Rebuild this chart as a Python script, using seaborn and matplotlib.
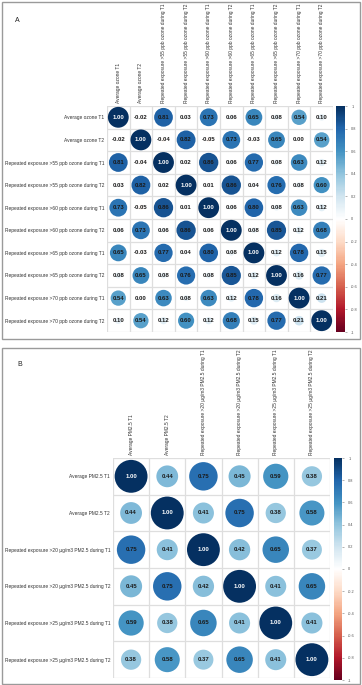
import numpy as np
import pandas as pd
import matplotlib
matplotlib.use("Agg")
import matplotlib.pyplot as plt
import seaborn as sns
from matplotlib.colors import LinearSegmentedColormap, Normalize
from matplotlib.patches import Rectangle
import matplotlib.cm as cm

# ---------------- data ----------------
ozone_labels = [
    "Average ozone T1",
    "Average ozone T2",
    "Repeated exposure >55 ppb ozone during T1",
    "Repeated exposure >55 ppb ozone during T2",
    "Repeated exposure >60 ppb ozone during T1",
    "Repeated exposure >60 ppb ozone during T2",
    "Repeated exposure >65 ppb ozone during T1",
    "Repeated exposure >65 ppb ozone during T2",
    "Repeated exposure >70 ppb ozone during T1",
    "Repeated exposure >70 ppb ozone during T2",
]
ozone_corr = [
    [1.00, -0.02, 0.81, 0.03, 0.73, 0.06, 0.65, 0.08, 0.54, 0.10],
    [-0.02, 1.00, -0.04, 0.82, -0.05, 0.73, -0.03, 0.65, 0.00, 0.54],
    [0.81, -0.04, 1.00, 0.02, 0.86, 0.06, 0.77, 0.08, 0.63, 0.12],
    [0.03, 0.82, 0.02, 1.00, 0.01, 0.86, 0.04, 0.76, 0.08, 0.60],
    [0.73, -0.05, 0.86, 0.01, 1.00, 0.06, 0.80, 0.08, 0.63, 0.12],
    [0.06, 0.73, 0.06, 0.86, 0.06, 1.00, 0.08, 0.85, 0.12, 0.68],
    [0.65, -0.03, 0.77, 0.04, 0.80, 0.08, 1.00, 0.12, 0.78, 0.15],
    [0.08, 0.65, 0.08, 0.76, 0.08, 0.85, 0.12, 1.00, 0.16, 0.77],
    [0.54, 0.00, 0.63, 0.08, 0.63, 0.12, 0.78, 0.16, 1.00, 0.21],
    [0.10, 0.54, 0.12, 0.60, 0.12, 0.68, 0.15, 0.77, 0.21, 1.00],
]
pm_labels = [
    "Average PM2.5 T1",
    "Average PM2.5 T2",
    "Repeated exposure >20 µg/m3 PM2.5 during T1",
    "Repeated exposure >20 µg/m3 PM2.5 during T2",
    "Repeated exposure >25 µg/m3 PM2.5 during T1",
    "Repeated exposure >25 µg/m3 PM2.5 during T2",
]
pm_corr = [
    [1.00, 0.44, 0.75, 0.45, 0.59, 0.38],
    [0.44, 1.00, 0.41, 0.75, 0.38, 0.58],
    [0.75, 0.41, 1.00, 0.42, 0.65, 0.37],
    [0.45, 0.75, 0.42, 1.00, 0.41, 0.65],
    [0.59, 0.38, 0.65, 0.41, 1.00, 0.41],
    [0.38, 0.58, 0.37, 0.65, 0.41, 1.00],
]
cbar_ticks = [-1, -0.8, -0.6, -0.4, -0.2, 0, 0.2, 0.4, 0.6, 0.8, 1]
cbar_ticklabels = ["-1", "-0.8", "-0.6", "-0.4", "-0.2", "0", "0.2", "0.4", "0.6", "0.8", "1"]

# ---------------- style ----------------
sns.set_theme(style="white")
plt.rcParams["font.family"] = ["Liberation Sans", "DejaVu Sans"]

rdbu = ["#67001F", "#B2182B", "#D6604D", "#F4A582", "#FDDBC7", "#FFFFFF",
        "#D1E5F0", "#92C5DE", "#4393C3", "#2166AC", "#053061"]
cmap = LinearSegmentedColormap.from_list("corrRdBu", rdbu, N=200)

W, H = 362, 685
fig = plt.figure(figsize=(W / 100, H / 100), dpi=100)
fig.patch.set_facecolor("white")


def px_axes(x0, y0, x1, y1):
    return fig.add_axes([x0 / W, 1 - y1 / H, (x1 - x0) / W, (y1 - y0) / H])


def border(x0, y0, x1, y1):
    fig.patches.append(Rectangle((x0 / W, 1 - y1 / H), (x1 - x0) / W, (y1 - y0) / H,
                                 transform=fig.transFigure, fill=False,
                                 edgecolor="#9a9a9a", linewidth=1.0))


def corr_panel(labels, corr, grid_box, cbar_box, smax, num_fs, lab_fs):
    n = len(labels)
    rows, cols, vals = [], [], []
    for i in range(n):
        for j in range(n):
            rows.append(i + 0.5)
            cols.append(j + 0.5)
            vals.append(corr[i][j])
    df = pd.DataFrame({"row": rows, "col": cols, "r": vals})
    df["absr"] = df["r"].abs()

    ax = px_axes(*grid_box)
    ax.set_facecolor("white")
    for k in range(n + 1):
        ax.axhline(k, color="#dedede", lw=0.9, zorder=0)
        ax.axvline(k, color="#dedede", lw=0.9, zorder=0)
    sns.scatterplot(data=df, x="col", y="row", hue="r", size="absr",
                    hue_norm=(-1, 1), palette=cmap, size_norm=(0, 1),
                    sizes=(0, smax), legend=False, linewidth=0, ax=ax, zorder=2)
    for _, rr in df.iterrows():
        col = "white" if rr["r"] > 0.95 else "#1a1a1a"
        ax.text(rr["col"], rr["row"], f"{rr['r']:.2f}", ha="center", va="center",
                fontsize=num_fs, fontweight="bold", color=col, zorder=3)
    ax.set_xlim(0, n)
    ax.set_ylim(n, 0)
    ax.set_xticks([k + 0.5 for k in range(n)])
    ax.set_yticks([k + 0.5 for k in range(n)])
    ax.set_xticklabels(labels, rotation=90, fontsize=lab_fs, color="#333333")
    ax.set_yticklabels(labels, fontsize=lab_fs, color="#333333")
    ax.xaxis.tick_top()
    ax.tick_params(length=0, pad=2)
    ax.set_xlabel("")
    ax.set_ylabel("")
    for s in ax.spines.values():
        s.set_visible(False)

    cax = px_axes(*cbar_box)
    sm = cm.ScalarMappable(norm=Normalize(-1, 1), cmap=cmap)
    cb = fig.colorbar(sm, cax=cax, ticks=cbar_ticks)
    cb.ax.set_yticklabels(cbar_ticklabels)
    cb.ax.tick_params(labelsize=2.8, length=1.5, width=0.4, color="#777777",
                      labelcolor="#555555", pad=3)
    cb.outline.set_visible(False)
    return ax


# Panel A
border(2, 2, 360, 339)
fig.text(17 / W, 1 - 20 / H, "A", fontsize=5, ha="center", va="center", color="#222222")
corr_panel(ozone_labels, ozone_corr, (107, 106, 333, 332), (336, 106, 345, 332),
           smax=225, num_fs=4.3, lab_fs=3.5)

# Panel B
border(2, 348, 360, 684)
fig.text(20 / W, 1 - 365 / H, "B", fontsize=5, ha="center", va="center", color="#222222")
corr_panel(pm_labels, pm_corr, (113, 458, 330, 678), (334, 458, 342, 680),
           smax=560, num_fs=4.3, lab_fs=3.5)

fig.savefig("out.png", dpi=100, facecolor="white")
